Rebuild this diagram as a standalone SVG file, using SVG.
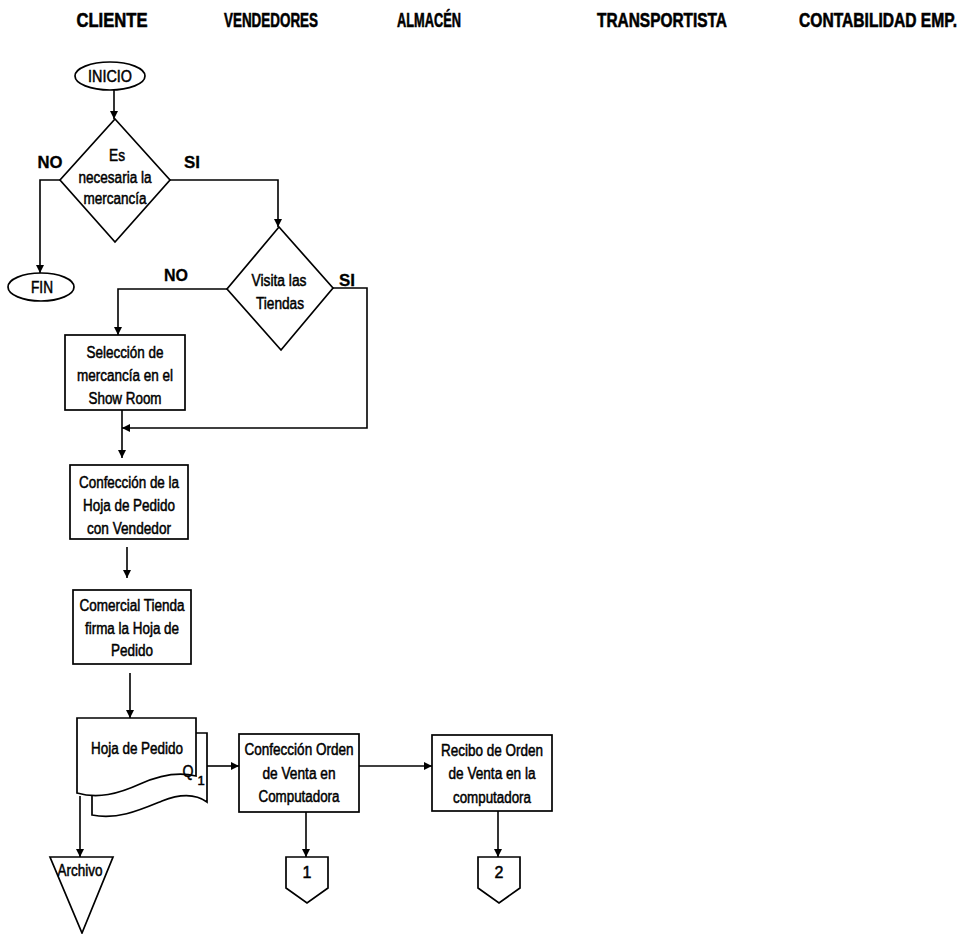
<svg xmlns="http://www.w3.org/2000/svg" width="975" height="934" viewBox="0 0 975 934">
  <style>
    .hdr { font-family: "Liberation Sans", Arial, sans-serif; font-size: 20px; font-weight: bold; text-anchor: middle; fill: #000; stroke: #000; stroke-width: 0.6; }
    .lbl { font-family: "Liberation Sans", Arial, sans-serif; font-size: 17px; font-weight: bold; text-anchor: middle; fill: #000; stroke: #000; stroke-width: 0.3; }
    .txt { font-family: "Liberation Sans", Arial, sans-serif; font-size: 16px; text-anchor: middle; fill: #000; stroke: #000; stroke-width: 0.5; }
    .shape { fill: #fff; stroke: #000; stroke-width: 1.7; }
    .conn { fill: none; stroke: #000; stroke-width: 1.6; }
  </style>
  <defs>
    <marker id="arrow" viewBox="0 0 10 10" refX="10" refY="5" markerWidth="9" markerHeight="8" markerUnits="userSpaceOnUse" orient="auto">
      <path d="M0,0 L10,5 L0,10 Z" fill="#000"/>
    </marker>
  </defs>
  <rect width="975" height="934" fill="#fff"/>

  <!-- lane headers (narrow lettering) -->
  <g id="headers">
    <text class="hdr" x="112" y="27" textLength="71" lengthAdjust="spacingAndGlyphs">CLIENTE</text>
    <text class="hdr" x="271" y="27" textLength="94" lengthAdjust="spacingAndGlyphs">VENDEDORES</text>
    <text class="hdr" x="429" y="27" textLength="64" lengthAdjust="spacingAndGlyphs">ALMACÉN</text>
    <text class="hdr" x="662" y="27" textLength="130" lengthAdjust="spacingAndGlyphs">TRANSPORTISTA</text>
    <text class="hdr" transform="translate(878,27) scale(0.78,1)">CONTABILIDAD EMP.</text>
  </g>

  <!-- connectors -->
  <g id="connectors">
    <path class="conn" d="M114,90 V119" marker-end="url(#arrow)"/>
    <path class="conn" d="M60,180 H40 V273" marker-end="url(#arrow)"/>
    <path class="conn" d="M170,180 H278 V227" marker-end="url(#arrow)"/>
    <path class="conn" d="M227,289 H118 V335" marker-end="url(#arrow)"/>
    <path class="conn" d="M333,288 H367 V428 H122" marker-end="url(#arrow)"/>
    <path class="conn" d="M122,410 V458" marker-end="url(#arrow)"/>
    <path class="conn" d="M127,547 V578" marker-end="url(#arrow)"/>
    <path class="conn" d="M130,673 V718" marker-end="url(#arrow)"/>
    <path class="conn" d="M80,796 V857" marker-end="url(#arrow)"/>
    <path class="conn" d="M207,766 H239" marker-end="url(#arrow)"/>
    <path class="conn" d="M359,766 H432" marker-end="url(#arrow)"/>
    <path class="conn" d="M306,812 V857" marker-end="url(#arrow)"/>
    <path class="conn" d="M498,811 V857" marker-end="url(#arrow)"/>
  </g>

  <!-- edge labels -->
  <g id="edge-labels">
    <text class="lbl" x="50" y="168" textLength="25" lengthAdjust="spacingAndGlyphs">NO</text>
    <text class="lbl" x="192" y="168" textLength="16" lengthAdjust="spacingAndGlyphs">SI</text>
    <text class="lbl" x="176" y="281" textLength="24" lengthAdjust="spacingAndGlyphs">NO</text>
    <text class="lbl" x="347" y="286" textLength="16" lengthAdjust="spacingAndGlyphs">SI</text>
  </g>

  <g id="inicio">
    <ellipse class="shape" cx="110" cy="76" rx="35" ry="14"/>
    <text class="txt" x="110" y="82" style="font-size:17px" textLength="44" lengthAdjust="spacingAndGlyphs">INICIO</text>
  </g>

  <g id="decision-necesaria">
    <polygon class="shape" points="115,119 170,180 115,242 60,180"/>
    <text class="txt" x="117" y="161" textLength="16" lengthAdjust="spacingAndGlyphs">Es</text>
    <text class="txt" x="115" y="183" textLength="73" lengthAdjust="spacingAndGlyphs">necesaria la</text>
    <text class="txt" x="115" y="204" textLength="63" lengthAdjust="spacingAndGlyphs">mercancía</text>
  </g>

  <g id="fin">
    <ellipse class="shape" cx="41" cy="287" rx="33" ry="14"/>
    <text class="txt" x="42" y="293" textLength="22" lengthAdjust="spacingAndGlyphs">FIN</text>
  </g>

  <g id="decision-visita">
    <polygon class="shape" points="279,227 333,288 281,350 227,289"/>
    <text class="txt" x="279" y="286" textLength="55" lengthAdjust="spacingAndGlyphs">Visita las</text>
    <text class="txt" x="280" y="309" textLength="48" lengthAdjust="spacingAndGlyphs">Tiendas</text>
  </g>

  <g id="seleccion">
    <rect class="shape" x="65" y="335" width="120" height="75"/>
    <text class="txt" x="125" y="358" textLength="77" lengthAdjust="spacingAndGlyphs">Selección de</text>
    <text class="txt" x="125" y="381" textLength="96" lengthAdjust="spacingAndGlyphs">mercancía en el</text>
    <text class="txt" x="125" y="404" textLength="73" lengthAdjust="spacingAndGlyphs">Show Room</text>
  </g>

  <g id="confeccion-hoja">
    <rect class="shape" x="70" y="465" width="118" height="74"/>
    <text class="txt" x="129" y="488" textLength="100" lengthAdjust="spacingAndGlyphs">Confección de la</text>
    <text class="txt" x="129" y="511" textLength="92" lengthAdjust="spacingAndGlyphs">Hoja de Pedido</text>
    <text class="txt" x="129" y="534" textLength="84" lengthAdjust="spacingAndGlyphs">con Vendedor</text>
  </g>

  <g id="comercial-firma">
    <rect class="shape" x="73" y="590" width="118" height="74"/>
    <text class="txt" x="132" y="611" textLength="105" lengthAdjust="spacingAndGlyphs">Comercial Tienda</text>
    <text class="txt" x="132" y="634" textLength="94" lengthAdjust="spacingAndGlyphs">firma la Hoja de</text>
    <text class="txt" x="132" y="656" textLength="42" lengthAdjust="spacingAndGlyphs">Pedido</text>
  </g>

  <g id="hoja-pedido">
    <!-- back sheet -->
    <path class="shape" d="M92,790 V815 C118,820 140,810 162,801 C182,793 196,794 207,802 V733 H185 Z"/>
    <!-- front sheet -->
    <path class="shape" d="M77,718 H196 V776 C180,772 160,775 140,784 C118,794 98,799 77,793 Z"/>
    <text class="txt" x="137" y="754" textLength="92" lengthAdjust="spacingAndGlyphs">Hoja de Pedido</text>
    <text class="txt" x="188" y="777" style="font-size:17px" textLength="11" lengthAdjust="spacingAndGlyphs">Q</text>
    <text class="txt" x="201" y="785" style="font-size:13px">1</text>
  </g>

  <g id="archivo">
    <polygon class="shape" points="50,857 113,857 82,933"/>
    <text class="txt" x="80" y="876" textLength="45" lengthAdjust="spacingAndGlyphs">Archivo</text>
  </g>

  <g id="confeccion-orden">
    <rect class="shape" x="239" y="734" width="120" height="78"/>
    <text class="txt" x="299" y="755" textLength="109" lengthAdjust="spacingAndGlyphs">Confección Orden</text>
    <text class="txt" x="299" y="779" textLength="73" lengthAdjust="spacingAndGlyphs">de Venta en</text>
    <text class="txt" x="299" y="802" textLength="81" lengthAdjust="spacingAndGlyphs">Computadora</text>
  </g>

  <g id="recibo-orden">
    <rect class="shape" x="432" y="735" width="120" height="76"/>
    <text class="txt" x="492" y="756" textLength="102" lengthAdjust="spacingAndGlyphs">Recibo de Orden</text>
    <text class="txt" x="492" y="779" textLength="87" lengthAdjust="spacingAndGlyphs">de Venta en la</text>
    <text class="txt" x="492" y="803" textLength="78" lengthAdjust="spacingAndGlyphs">computadora</text>
  </g>

  <g id="conector-1">
    <polygon class="shape" points="286,857 328,857 328,888 307,903 286,888"/>
    <text class="txt" x="307" y="878">1</text>
  </g>

  <g id="conector-2">
    <polygon class="shape" points="478,857 520,857 520,888 499,903 478,888"/>
    <text class="txt" x="499" y="878">2</text>
  </g>
</svg>
